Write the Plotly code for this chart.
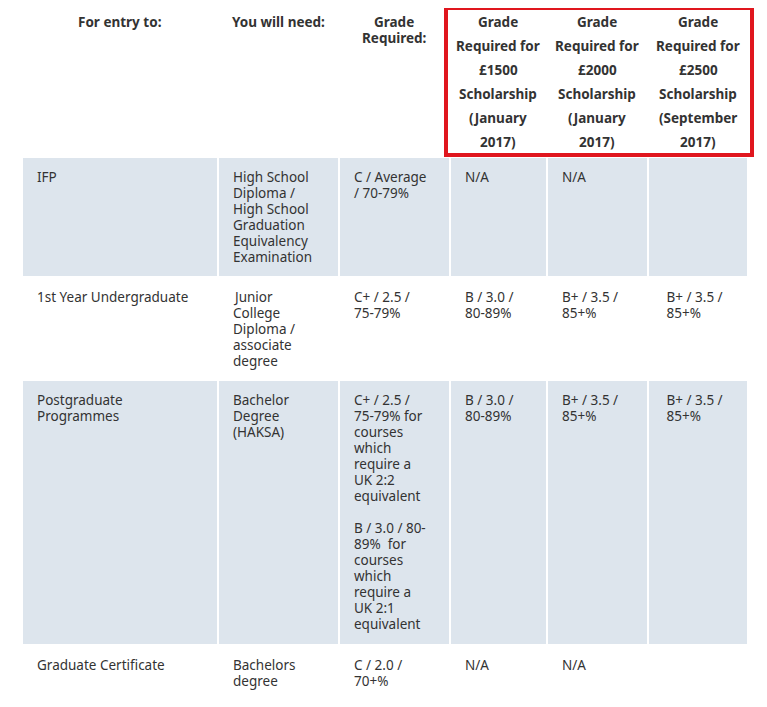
import plotly.graph_objects as go

# header labels (one string per column, lines split by \n)
HEADERS = [
    "For entry to:",
    "You will need:",
    "Grade\nRequired:",
    "Grade\nRequired for\n£1500\nScholarship\n(January\n2017)",
    "Grade\nRequired for\n£2000\nScholarship\n(January\n2017)",
    "Grade\nRequired for\n£2500\nScholarship\n(September\n2017)",
]

ROWS = [
    ["IFP",
     "High School\nDiploma /\nHigh School\nGraduation\nEquivalency\nExamination",
     "C / Average\n/ 70-79%", "N/A", "N/A", ""],
    ["1st Year Undergraduate",
     "Junior\nCollege\nDiploma /\nassociate\ndegree",
     "C+ / 2.5 /\n75-79%", "B / 3.0 /\n80-89%", "B+ / 3.5 /\n85+%", " B+ / 3.5 /\n 85+%"],
    ["Postgraduate\nProgrammes",
     "Bachelor\nDegree\n(HAKSA)",
     "C+ / 2.5 /\n75-79% for\ncourses\nwhich\nrequire a\nUK 2:2\nequivalent\n\nB / 3.0 / 80-\n89%  for\ncourses\nwhich\nrequire a\nUK 2:1\nequivalent",
     "B / 3.0 /\n80-89%", "B+ / 3.5 /\n85+%", " B+ / 3.5 /\n 85+%"],
    ["Graduate Certificate",
     "Bachelors\ndegree",
     "C / 2.0 /\n70+%", "N/A", "N/A", ""],
]

COL_EDGES = [22, 218, 339, 450, 547, 648, 748]
ROW_EDGES = [157, 277, 380, 645, 707]
ROW_FILL = ["#dde5ed", "#ffffff", "#dde5ed", "#ffffff"]
HEADER_CENTERS = [120, 278, 394, 498, 597, 698]

TEXT = "#333333"
FONT = "Noto Sans"
OFF = 8  # browser body margin

fig = go.Figure()
fig.add_trace(go.Scatter(x=[OFF, 767], y=[OFF, 707], mode="markers",
                         marker=dict(opacity=0), hoverinfo="skip", showlegend=False))

shapes = []
ann = []

for r, row in enumerate(ROWS):
    top, bot = ROW_EDGES[r], ROW_EDGES[r + 1]
    for c, txt in enumerate(row):
        x0, x1 = COL_EDGES[c], COL_EDGES[c + 1]
        shapes.append(dict(type="rect", x0=x0 + 1, x1=x1 - 1, y0=top + 1, y1=bot - 1,
                           fillcolor=ROW_FILL[r], line_width=0, layer="below"))
        for i, line in enumerate(txt.split("\n")):
            if not line.strip():
                continue
            ann.append(dict(x=x0 + 13, y=top + 20 + 16 * i, text=line, showarrow=False,
                            xanchor="left", yanchor="middle",
                            font=dict(family=FONT, size=13.5, color=TEXT)))

for c, txt in enumerate(HEADERS):
    step = 16 if c < 3 else 24
    for i, line in enumerate(txt.split("\n")):
        ann.append(dict(x=HEADER_CENTERS[c], y=22 + step * i, text="<b>" + line + "</b>",
                        showarrow=False, xanchor="center", yanchor="middle",
                        font=dict(family=FONT, size=13.5, color=TEXT)))

# red highlight box around the scholarship columns
shapes.append(dict(type="rect", x0=446, x1=752, y0=8, y1=155,
                   line=dict(color="#e0161e", width=4), fillcolor="rgba(0,0,0,0)"))

fig.update_layout(
    width=767 - OFF, height=707 - OFF,
    margin=dict(l=0, r=0, t=0, b=0),
    plot_bgcolor="white", paper_bgcolor="white",
    shapes=shapes, annotations=ann,
    xaxis=dict(range=[OFF, 767], visible=False, fixedrange=True),
    yaxis=dict(range=[707, OFF], visible=False, fixedrange=True),
)

fig.write_html("out.html")
